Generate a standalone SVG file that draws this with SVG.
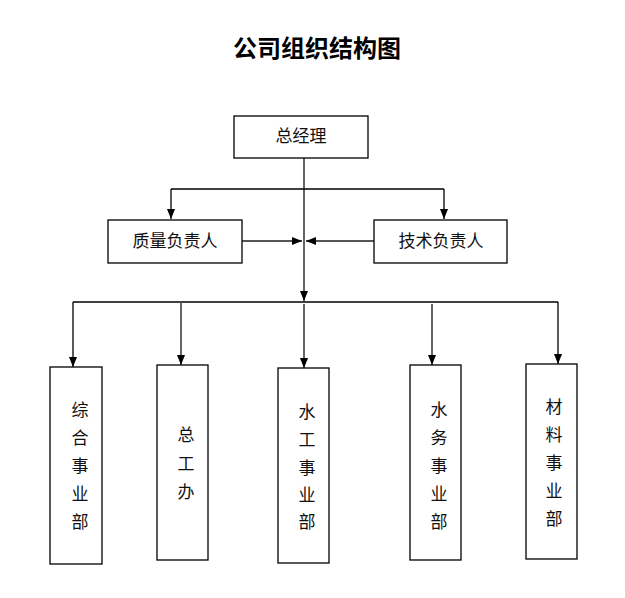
<svg xmlns="http://www.w3.org/2000/svg" width="625" height="598" viewBox="0 0 625 598">
<style>
.box{fill:#fff;stroke:#000;stroke-width:1.3}
.t{font-family:"Noto Sans CJK SC","Noto Sans",sans-serif;font-size:17px;fill:#111;text-anchor:middle;dominant-baseline:central}
.title{font-family:"Noto Sans CJK SC","Noto Sans",sans-serif;font-size:24px;font-weight:bold;fill:#000;text-anchor:middle}
.ln{fill:none;stroke:#000;stroke-width:1.3}
.gl{fill:none;stroke:#555;stroke-width:1.8}
</style>
<defs>
<marker id="ah" markerUnits="userSpaceOnUse" markerWidth="10" markerHeight="10" viewBox="0 0 10 10" refX="10" refY="5" orient="auto">
<path d="M0,1 L10,5 L0,9 Z" fill="#000"/>
</marker>
</defs>
<rect width="625" height="598" fill="#fff"/>
<text class="title" x="317" y="57">公司组织结构图</text>
<g id="connectors">
<line class="gl" x1="304" y1="158" x2="304" y2="301" marker-end="url(#ah)"/>
<polyline class="ln" points="171,189 444,189"/>
<line class="ln" x1="171" y1="189" x2="171" y2="219" marker-end="url(#ah)"/>
<line class="ln" x1="444" y1="189" x2="444" y2="219" marker-end="url(#ah)"/>
<line class="gl" x1="242" y1="241" x2="302" y2="241" marker-end="url(#ah)"/>
<line class="gl" x1="374" y1="241" x2="306" y2="241" marker-end="url(#ah)"/>
<polyline class="ln" points="73,302 558,302"/>
<line class="ln" x1="73" y1="302" x2="73" y2="367" marker-end="url(#ah)"/>
<line class="gl" x1="181" y1="302" x2="181" y2="365" marker-end="url(#ah)"/>
<line class="gl" x1="304" y1="304" x2="304" y2="368" marker-end="url(#ah)"/>
<line class="gl" x1="432" y1="304" x2="432" y2="365" marker-end="url(#ah)"/>
<line class="ln" x1="558" y1="302" x2="558" y2="364" marker-end="url(#ah)"/>
</g>
<g id="gm"><rect class="box" x="234" y="116" width="134" height="42"/><text class="t" x="301" y="134">总经理</text></g>
<g id="zl"><rect class="box" x="108" y="220" width="134" height="43"/><text class="t" x="175" y="239">质量负责人</text></g>
<g id="js"><rect class="box" x="374" y="220" width="133" height="43"/><text class="t" x="441" y="239">技术负责人</text></g>
<g id="zh"><rect class="box" x="50" y="367" width="52" height="197"/>
<text class="t" x="80" y="408"><tspan x="80">综</tspan><tspan x="80" dy="28">合</tspan><tspan x="80" dy="28">事</tspan><tspan x="80" dy="28">业</tspan><tspan x="80" dy="28">部</tspan></text></g>
<g id="zgb"><rect class="box" x="157" y="365" width="51" height="195"/>
<text class="t" x="186" y="433"><tspan x="186">总</tspan><tspan x="186" dy="29">工</tspan><tspan x="186" dy="28">办</tspan></text></g>
<g id="sg"><rect class="box" x="278" y="368" width="51" height="195"/>
<text class="t" x="307" y="410"><tspan x="307">水</tspan><tspan x="307" dy="28">工</tspan><tspan x="307" dy="28">事</tspan><tspan x="307" dy="27">业</tspan><tspan x="307" dy="27">部</tspan></text></g>
<g id="sw"><rect class="box" x="410" y="365" width="51" height="195"/>
<text class="t" x="439" y="408"><tspan x="439">水</tspan><tspan x="439" dy="28">务</tspan><tspan x="439" dy="28">事</tspan><tspan x="439" dy="28">业</tspan><tspan x="439" dy="28">部</tspan></text></g>
<g id="cl"><rect class="box" x="526" y="364" width="51" height="195"/>
<text class="t" x="554" y="405"><tspan x="554">材</tspan><tspan x="554" dy="28">料</tspan><tspan x="554" dy="28">事</tspan><tspan x="554" dy="28">业</tspan><tspan x="554" dy="28">部</tspan></text></g>
</svg>
